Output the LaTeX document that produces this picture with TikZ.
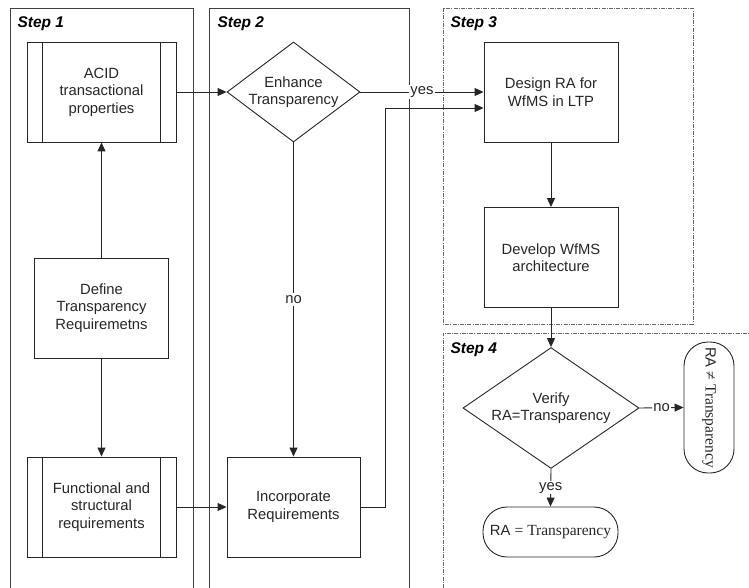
\documentclass[tikz,border=0pt]{standalone}
\usepackage{fontspec}
\setmainfont{Liberation Sans}
\newfontfamily\tnr{Liberation Serif}
\usetikzlibrary{shapes.geometric,arrows.meta,calc}
\begin{document}
\begin{tikzpicture}[x=1pt,y=-1pt,
  every node/.style={font=\fontsize{14.8}{17.5}\selectfont, text=black!85},
  ln/.style={draw=black!85, line width=0.9pt},
  lane/.style={draw=black!75, line width=0.9pt},
  dd/.style={draw=black!60, line width=0.6pt, dash pattern=on 4pt off 1.2pt on 1pt off 1.2pt},
  arr/.style={ln, -{Triangle[length=9pt,width=8pt]}},
  proc/.style={ln, rectangle, minimum width=134pt, minimum height=100pt, align=center, inner sep=2pt},
  predef/.style={ln, rectangle, minimum width=149pt, minimum height=100pt, align=center, inner sep=2pt},
  dec/.style={ln, diamond, aspect=1.33, inner sep=0pt, align=center},
  term/.style={ln, rectangle, rounded corners=24pt, minimum width=135pt, minimum height=50pt, align=center, inner sep=2pt},
  steplbl/.style={anchor=base west, font=\fontsize{15.5}{18}\selectfont\bfseries\itshape, text=black}
]
\useasboundingbox (0,0) rectangle (749,588);
% lanes
\draw[lane] (10,588) -- (10,8) -- (193,8) -- (193,588);
\draw[lane] (209,588) -- (209,8) -- (409,8) -- (409,588);
\draw[dd] (443,8) rectangle (693,324);
\draw[dd] (443,588) -- (443,333) -- (749,333);
\node[steplbl] (s1) at (14,28) {Step 1};
\node[steplbl] (s2) at (214,28) {Step 2};
\node[steplbl] (s3) at (447,28) {Step 3};
\node[steplbl] (s4) at (447,353) {Step 4};
% step 1
\node[predef] (acid) at (101.5,92) {ACID\\transactional\\properties};
\draw[ln] ($(acid.north west)+(16,0)$) -- ($(acid.south west)+(16,0)$);
\draw[ln] ($(acid.north east)+(-16,0)$) -- ($(acid.south east)+(-16,0)$);
\node[proc] (def) at (101.5,308) {Define\\Transparency\\Requiremetns};
\node[predef] (func) at (101.5,507) {Functional and\\structural\\requirements};
\draw[ln] ($(func.north west)+(16,0)$) -- ($(func.south west)+(16,0)$);
\draw[ln] ($(func.north east)+(-16,0)$) -- ($(func.south east)+(-16,0)$);
% step 2
\node[dec, minimum width=133pt, minimum height=100pt] (enh) at (293.5,92) {Enhance\\Transparency};
\node[proc, minimum width=133pt] (inc) at (293.5,507) {Incorporate\\Requirements};
% step 3
\node[proc] (des) at (551,92) {Design RA for\\WfMS in LTP};
\node[proc] (dev) at (551,257.5) {Develop WfMS\\architecture};
% step 4
\node[dec, minimum width=176pt, minimum height=99pt] (ver) at (551,408) {Verify\\RA=Transparency};
\node[term, minimum width=131pt, minimum height=50pt, rotate=-90] (neq) at (709,407.5) {RA {\tnr\fontsize{15.5}{17}\selectfont ≠ Transparency}};
\node[term] (eq) at (550.5,532) {RA {\tnr\fontsize{15.5}{17}\selectfont = Transparency}};
% connectors
\draw[arr] (acid.east) -- (enh.west);
\draw[arr] (def.north) -- (acid.south);
\draw[arr] (def.south) -- (func.north);
\draw[arr] (func.east) -- (inc.west);
\draw[arr] (enh.east) -- node[fill=white, inner sep=1pt, pos=0.5] {yes} (des.west);
\draw[arr] (enh.south) -- node[fill=white, inner sep=2pt, pos=0.5] {no} (inc.north);
\coordinate (k1) at (385,507);
\coordinate (k2) at (385,108);
\draw[arr] (inc.east) -- (k1) -- (k2) -- ([yshift=-16pt]des.west);
\draw[arr] (des.south) -- (dev.north);
\draw[arr] (dev.south) -- (ver.north);
\draw[arr] (ver.east) -- node[fill=white, inner sep=1pt] {no} (neq.south);
\draw[arr] (ver.south) -- node[fill=white, inner sep=1pt, pos=0.5] {yes} (eq.north);
\end{tikzpicture}
\end{document}
